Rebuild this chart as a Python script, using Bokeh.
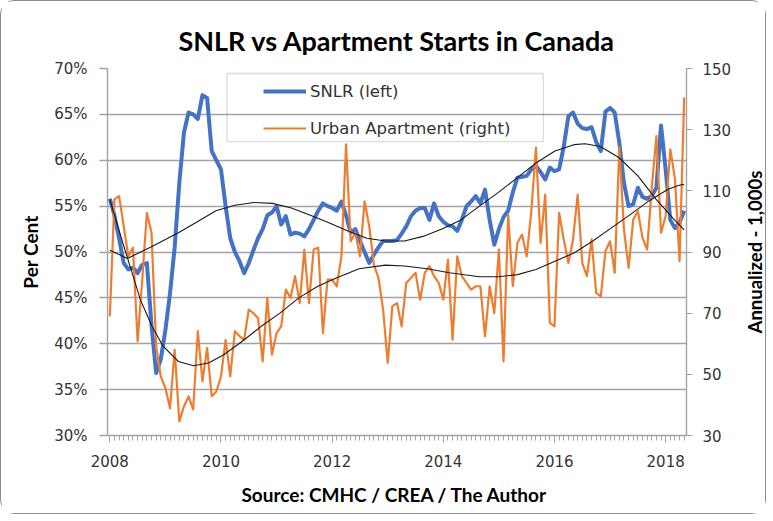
import math
from bokeh.plotting import figure
from bokeh.layouts import row
from bokeh.models import (Range1d, LinearAxis, SingleIntervalTicker, FixedTicker,
                          PrintfTickFormatter, Legend, LegendItem, BoxAnnotation, Label)
from bokeh.embed import file_html
from bokeh.resources import INLINE

# ---------------- data (monthly, Jan 2008 .. May 2018) ----------------
snlr = [
    55.8, 54.0, 51.5, 48.8, 48.1, 48.3, 47.7, 48.6, 48.8, 42.0, 36.8, 38.3,
    41.5, 45.5, 50.5, 57.5, 63.0, 65.2, 65.0, 64.5, 67.1, 66.8, 61.0, 60.0,
    59.0, 55.0, 51.5, 50.0, 49.0, 47.7, 48.8, 50.2, 51.5, 52.5, 54.0, 54.3,
    55.0, 53.0, 53.9, 51.9, 52.1, 52.0, 51.7, 52.5, 53.5, 54.5, 55.3, 55.0,
    54.8, 54.5, 55.5, 54.0, 52.1, 52.5, 51.2, 50.0, 48.8, 49.7, 50.5, 51.2,
    51.2, 51.2, 51.3, 52.0, 52.8, 53.9, 54.5, 54.8, 54.8, 53.5, 55.3, 53.9,
    53.3, 52.9, 52.8, 52.3, 53.5, 55.0, 55.5, 56.1, 55.3, 56.8, 53.5, 50.8,
    52.5, 53.8, 54.5, 56.5, 58.1, 58.2, 58.3, 59.0, 59.4, 58.7, 57.9, 59.2,
    58.8, 59.0, 61.5, 64.8, 65.2, 64.0, 63.5, 63.4, 63.6, 62.0, 61.0, 65.3,
    65.7, 65.2, 61.9, 57.5, 55.0, 55.2, 57.0, 56.0, 55.8, 56.1, 57.0, 63.8,
    59.0, 53.5, 52.6, 53.2, 54.5,
]
apartments = [
    69.0, 107.2, 108.3, 98.5, 88.6, 91.4, 60.8, 81.0, 102.8, 96.3, 59.1, 49.3,
    45.5, 38.9, 58.0, 34.6, 39.5, 42.8, 38.5, 64.1, 47.7, 58.6, 42.8, 44.4,
    49.3, 61.3, 49.3, 64.1, 62.5, 61.3, 71.2, 70.0, 68.4, 54.2, 75.0, 56.4,
    63.5, 65.7, 77.7, 75.0, 82.1, 73.3, 90.8, 73.3, 90.8, 91.4, 63.5, 81.0,
    81.0, 78.8, 88.6, 125.2, 93.5, 96.3, 88.6, 106.6, 98.5, 85.9, 81.5, 71.2,
    53.7, 72.3, 73.3, 65.7, 79.9, 81.5, 83.2, 74.4, 83.2, 85.4, 82.1, 79.9,
    74.4, 87.5, 61.3, 88.6, 82.1, 79.9, 77.7, 78.8, 78.8, 62.4, 78.8, 70.0,
    90.8, 54.2, 102.2, 78.8, 93.0, 95.7, 88.6, 103.4, 124.1, 93.0, 108.8, 66.8,
    65.7, 102.8, 94.1, 86.4, 94.1, 108.8, 86.4, 82.1, 94.1, 76.6, 75.5, 90.3,
    93.5, 83.2, 124.1, 97.4, 84.8, 100.6, 103.4, 94.6, 90.8, 111.0, 127.9, 96.3,
    101.7, 123.6, 114.0, 87.0, 140.5,
]
months = list(range(len(snlr)))

# polynomial trendlines as drawn in the source chart
trend_snlr_m = [0, 3.8, 9.1, 14.8, 18.9, 22.9, 27.0, 31.1, 35.1, 39.2, 43.3, 47.3,
                51.4, 55.5, 59.5, 63.6, 67.6, 71.7, 75.8, 79.8, 83.9, 88.0, 92.0,
                96.1, 100.2, 102.6, 105.9, 109.9, 114.0, 118.0, 122.1, 124.0]
trend_snlr_v = [50.2, 49.3, 50.6, 52.1, 53.3, 54.5, 55.1, 55.4, 55.3, 54.8, 54.0, 53.2,
                52.3, 51.5, 51.2, 51.2, 51.7, 52.5, 53.5, 55.0, 56.5, 58.1, 59.7,
                61.0, 61.7, 61.8, 61.5, 60.3, 58.3, 55.7, 53.4, 52.4]
trend_apt_m = [0, 2.6, 6.6, 9.1, 11.5, 14.8, 18.1, 21.3, 24.6, 28.6, 32.7, 36.8, 40.8,
               44.9, 48.9, 53.8, 59.5, 63.6, 68.5, 73.3, 79.8, 83.9, 88.0, 92.0, 96.1,
               100.2, 104.2, 108.3, 112.4, 116.4, 120.5, 122.9, 124.0]
trend_apt_v = [107.2, 94.0, 74.4, 65.7, 59.2, 54.2, 52.8, 53.7, 56.4, 60.8, 65.7, 70.1,
               75.0, 78.8, 81.5, 84.5, 85.7, 85.4, 84.5, 83.2, 81.9, 81.9, 82.6, 84.3,
               87.0, 89.7, 93.5, 97.9, 102.3, 106.7, 110.5, 111.8, 112.1]

year_labels = ["2008", "2010", "2012", "2014", "2016", "2018"]
left_ticks = [30, 35, 40, 45, 50, 55, 60, 65, 70]
right_ticks = [30, 50, 70, 90, 110, 130, 150]

FONT = "DejaVu Sans"
BOLD = "Lato"
GRID = "#a3a3a3"
TXT = "#333333"
H = 512
TOP, BOTTOM = 67, 78

p = figure(width=738, height=H, output_backend="svg", toolbar_location=None,
           x_range=Range1d(-0.5, 124.5), y_range=Range1d(30, 70),
           min_border_left=106, min_border_right=53, min_border_top=TOP,
           min_border_bottom=BOTTOM, outline_line_color=None)
p.extra_y_ranges = {"right": Range1d(30, 150)}

p.title.text = "SNLR vs Apartment Starts in Canada"
p.title.align = "center"
p.title.text_font = BOLD
p.title.text_font_size = "27px"
p.title.text_font_style = "bold"
p.title.text_color = "black"
p.title.standoff = 24

# x axis
xa = p.xaxis[0]
xa.ticker = SingleIntervalTicker(interval=24, num_minor_ticks=24)
xa.major_label_overrides = {i * 24: lab for i, lab in enumerate(year_labels)}
xa.major_tick_out = 7
xa.major_tick_in = 0
xa.minor_tick_out = 5
xa.minor_tick_in = 0
xa.axis_line_color = GRID
xa.major_tick_line_color = GRID
xa.minor_tick_line_color = GRID
xa.axis_line_width = 1.4
xa.major_label_standoff = 12
xa.major_label_text_font = FONT
xa.major_label_text_font_size = "15px"
xa.major_label_text_color = TXT
xa.axis_label = "Source:  CMHC / CREA / The Author"
xa.axis_label_text_font = BOLD
xa.axis_label_text_font_size = "19px"
xa.axis_label_text_font_style = "bold"
xa.axis_label_text_color = "black"
xa.axis_label_standoff = 13

# left axis
ya = p.yaxis[0]
ya.ticker = FixedTicker(ticks=left_ticks)
ya.formatter = PrintfTickFormatter(format="%d%%")
ya.major_tick_out = 8
ya.major_tick_in = 0
ya.minor_tick_out = 0
ya.minor_tick_in = 0
ya.axis_line_color = GRID
ya.major_tick_line_color = GRID
ya.axis_line_width = 1.4
ya.major_tick_line_width = 1.4
ya.major_label_standoff = 12
ya.major_label_text_font = FONT
ya.major_label_text_font_size = "15px"
ya.major_label_text_color = TXT
ya.axis_label = "Per Cent"
ya.axis_label_text_font = BOLD
ya.axis_label_text_font_size = "19px"
ya.axis_label_text_font_style = "bold"
ya.axis_label_text_color = "black"
ya.axis_label_standoff = 9

# right axis (ticks and numbers)
ra = LinearAxis(y_range_name="right", ticker=FixedTicker(ticks=right_ticks))
ra.major_tick_out = 6
ra.major_tick_in = 0
ra.minor_tick_out = 0
ra.minor_tick_in = 0
ra.axis_line_color = GRID
ra.major_tick_line_color = GRID
ra.axis_line_width = 1.4
ra.major_label_standoff = 10
ra.major_label_text_font = FONT
ra.major_label_text_font_size = "15px"
ra.major_label_text_color = TXT
p.add_layout(ra, "right")

p.xgrid.grid_line_color = None
p.ygrid.grid_line_color = GRID
p.ygrid.grid_line_width = 1.4
p.ygrid.ticker = FixedTicker(ticks=left_ticks)

r_snlr = p.line(months, snlr, line_color="#4472C4", line_width=4, line_join="round")
r_apt = p.line(months, apartments, line_color="#ED7D31", line_width=2.2,
               line_join="round", y_range_name="right")
p.line(trend_snlr_m, trend_snlr_v, line_color="#1a1a1a", line_width=1.1, line_join="round")
p.line(trend_apt_m, trend_apt_v, line_color="#1a1a1a", line_width=1.1, line_join="round",
       y_range_name="right")

legend = Legend(items=[LegendItem(label="SNLR (left)", renderers=[r_snlr]),
                       LegendItem(label="Urban Apartment (right)", renderers=[r_apt])],
                location=(149, 290), orientation="vertical",
                background_fill_alpha=0, border_line_alpha=0,
                padding=7, spacing=17, margin=0,
                glyph_width=43, glyph_height=20, label_height=20, label_standoff=4,
                label_text_font=FONT, label_text_font_size="16.5px", label_text_color=TXT)
p.add_layout(legend)
p.add_layout(BoxAnnotation(left=25.3, right=93.6, top=69.45, bottom=62.03,
                           fill_alpha=0, line_color="#8c8c8c", line_width=1.4))

# narrow strip holding the right-hand axis title (reads bottom to top)
q = figure(width=26, height=H, output_backend="svg", toolbar_location=None,
           x_range=Range1d(0, 1), y_range=Range1d(0, 1),
           min_border_left=0, min_border_right=0, min_border_top=TOP,
           min_border_bottom=BOTTOM, outline_line_color=None)
q.xaxis.visible = False
q.yaxis.visible = False
q.xgrid.visible = False
q.ygrid.visible = False
q.add_layout(Label(x=0.6, y=0.5, text="Annualized - 1,000s", angle=90, angle_units="deg",
                   text_align="center", text_baseline="middle", text_font=BOLD,
                   text_font_size="18.5px", text_font_style="bold", text_color="black"))

layout = row(p, q, spacing=0,
             styles={"border": "1px solid #8c8c8c", "border-radius": "14px",
                     "background-color": "white"})

open("out.html", "w").write(file_html(layout, INLINE))
